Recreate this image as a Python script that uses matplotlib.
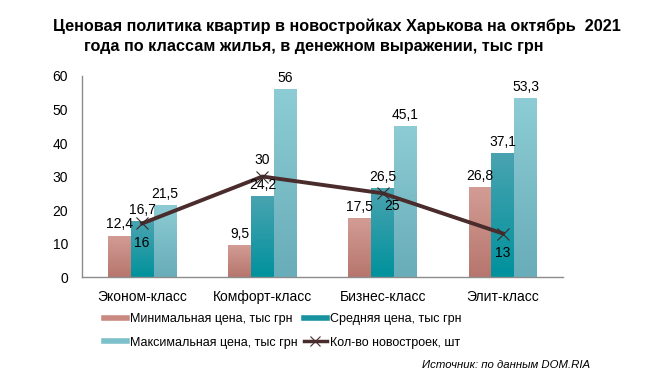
import numpy as np
import matplotlib.pyplot as plt
from matplotlib.lines import Line2D
from matplotlib.colors import LinearSegmentedColormap

plt.rcParams['font.family'] = ['Liberation Sans', 'DejaVu Sans']

categories = ['Эконом-класс', 'Комфорт-класс', 'Бизнес-класс', 'Элит-класс']
min_price = [12.4, 9.5, 17.5, 26.8]
avg_price = [16.7, 24.2, 26.5, 37.1]
max_price = [21.5, 56.0, 45.1, 53.3]
count_new = [16, 30, 25, 13]

series_names = ['Минимальная цена, тыс грн', 'Средняя цена, тыс грн',
                'Максимальная цена, тыс грн', 'Кол-во новостроек, шт']
title_line1 = 'Ценовая политика квартир в новостройках Харькова на октябрь  2021'
title_line2 = 'года по классам жилья, в денежном выражении, тыс грн'
source = 'Источник: по данным DOM.RIA'

# (top colour, bottom colour) for the bar gradients
bar_colors = [('#d29c95', '#b7766d'), ('#4aa3b0', '#00929d'), ('#8dccd4', '#68adb9')]
legend_colors = ['#c98880', '#17939f', '#7cc0ca']
line_color = '#4a2c2c'


def fmt(v):
    s = f'{v:.1f}'.replace('.', ',')
    return s[:-2] if s.endswith(',0') else s


def gradient_bars(ax, xs, heights, width, top, bottom):
    cmap = LinearSegmentedColormap.from_list('g', [bottom, top])
    grad = np.linspace(0, 1, 64).reshape(-1, 1)
    bars = ax.bar(xs, heights, width, color=bottom, zorder=2)
    for b in bars:
        x0, y0 = b.get_x(), b.get_y()
        im = ax.imshow(grad, cmap=cmap, origin='lower', aspect='auto',
                       extent=[x0, x0 + b.get_width(), y0, y0 + b.get_height()],
                       zorder=2.1)
        im.set_clip_path(b)
    return bars


fig = plt.figure(figsize=(6.46, 3.78), dpi=100)
ax = fig.add_axes([0.127, 0.267, 0.7445, 0.532])

x = np.arange(len(categories))
w = 0.19
for i, vals in enumerate([min_price, avg_price, max_price]):
    xs = x + (i - 1) * w
    gradient_bars(ax, xs, vals, w, *bar_colors[i])
    for xi, v in zip(xs, vals):
        ax.annotate(fmt(v), (xi, v), xytext=(0, 3), textcoords='offset points',
                    ha='center', va='bottom', fontsize=10, zorder=5)

ax.plot(x, count_new, color=line_color, lw=2.8, marker='x', markersize=9,
        markeredgewidth=0.8, markeredgecolor='#3a2a2a', zorder=4)
line_offsets = [(0, -14), (0, 7), (7, -9), (0, -14)]
for xi, v, off in zip(x, count_new, line_offsets):
    ax.annotate(fmt(v), (xi, v), xytext=off, textcoords='offset points',
                ha='center', va='center' if off[1] < 0 else 'bottom',
                fontsize=10, zorder=5)

ax.set_xlim(-0.5, len(categories) - 0.5)
ax.set_ylim(0, 60)
ax.set_yticks(range(0, 61, 10))
ax.set_xticks(x)
ax.set_xticklabels(categories, fontsize=10)
ax.tick_params(axis='both', length=0, labelsize=10)
ax.tick_params(axis='x', pad=9)
ax.tick_params(axis='y', pad=10)
for s in ['top', 'right']:
    ax.spines[s].set_visible(False)
for s in ['left', 'bottom']:
    ax.spines[s].set_color('#8c8c8c')
    ax.spines[s].set_linewidth(1)

handles = [Line2D([], [], color=legend_colors[0], lw=4),
           Line2D([], [], color=legend_colors[2], lw=4),
           Line2D([], [], color=legend_colors[1], lw=4),
           Line2D([], [], color=line_color, lw=2.5, marker='x', markersize=7,
                  markeredgewidth=0.8)]
labels = [series_names[0], series_names[2], series_names[1], series_names[3]]
fig.legend(handles, labels, ncol=2, loc='upper left', bbox_to_anchor=(0.161, 0.172),
           frameon=False, fontsize=9, handlelength=1.85, handletextpad=0.25,
           columnspacing=0.45, labelspacing=0.95, borderpad=0, borderaxespad=0)

fig.text(0.522, 0.931, title_line1, ha='center', va='center', fontsize=11.7,
         fontweight='bold')
fig.text(0.486, 0.876, title_line2, ha='center', va='center', fontsize=11.7,
         fontweight='bold')
fig.text(0.913, 0.034, source, ha='right', va='center', fontsize=8.2,
         style='italic')

fig.savefig('out.png', dpi=100)
